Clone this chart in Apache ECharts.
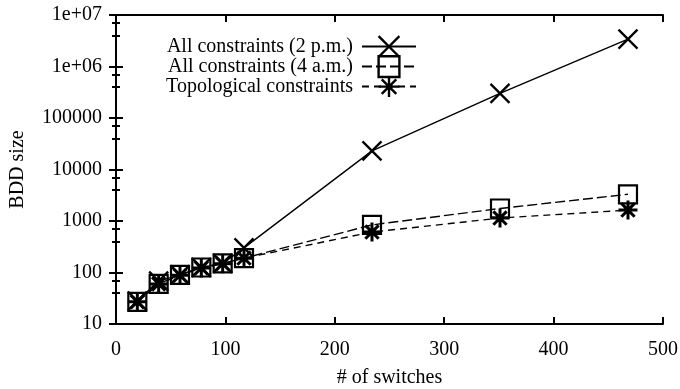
<!DOCTYPE html>
<html>
<head>
<meta charset="utf-8">
<script src="https://cdn.jsdelivr.net/npm/echarts@6/dist/echarts.min.js"></script>
<style>html,body{margin:0;padding:0;background:#fff;}#c{width:680px;height:389px;}</style>
</head>
<body>
<div id="c"></div>
<script>
const switches = [19.5, 39, 58.5, 78, 97.5, 117, 234, 351, 468];
const all2pm = [28, 68, 90, 125, 150, 300, 23000, 300000, 3400000];
const all4am = [27, 60, 90, 125, 150, 190, 840, 1750, 3300];
const topo = [27, 60, 88, 122, 148, 190, 610, 1140, 1630];
const seriesNames = ['All constraints (2 p.m.)', 'All constraints (4 a.m.)', 'Topological constraints'];
const yTickLabels = ['10', '100', '1000', '10000', '100000', '1e+06', '1e+07'];
const xTickLabels = ['0', '100', '200', '300', '400', '500'];

const FONT = 'Liberation Serif';
const pairs = arr => switches.map((x, i) => [x, arr[i]]);

const crossSym = 'path://M0,0L10,10M10,0L0,10';
const squareSym = 'path://M0,0L10,0L10,10L0,10Z';
const starSym = 'path://M5,0L5,10M0,5L10,5M1.5,1.5L8.5,8.5M8.5,1.5L1.5,8.5';

const baseAxisLine = { show: true, lineStyle: { color: '#000', width: 2 } };

const chart = echarts.init(document.getElementById('c'), null, { renderer: 'canvas' });
const legendCommon = {
  orient: 'horizontal', right: 263, align: 'right', itemWidth: 54, itemHeight: 26,
  selectedMode: false, padding: 0,
  itemStyle: { borderWidth: 2.4 },
  textStyle: { fontFamily: FONT, fontSize: 20, color: '#000', padding: [0, 4, 0, 0] }
};
chart.setOption({
  animation: false,
  backgroundColor: '#fff',
  grid: { left: 116, right: 17, top: 15, bottom: 65, outerBoundsMode: 'none', containLabel: false },
  legend: [
    Object.assign({ top: 35, data: [seriesNames[0]] }, legendCommon),
    Object.assign({ top: 55, data: [seriesNames[1]] }, legendCommon),
    Object.assign({ top: 75, data: [seriesNames[2]] }, legendCommon)
  ],
  xAxis: [{
    type: 'value', min: 0, max: 500, interval: 100, position: 'bottom',
    name: '# of switches', nameLocation: 'middle', nameGap: 44,
    nameTextStyle: { fontFamily: FONT, fontSize: 20, color: '#000' },
    axisLine: baseAxisLine,
    axisTick: { show: true, inside: true, length: 7, lineStyle: { color: '#000', width: 2 } },
    axisLabel: { fontFamily: FONT, fontSize: 20, color: '#000', margin: 16,
      formatter: v => xTickLabels[Math.round(v / 100)] },
    splitLine: { show: false }
  }, {
    type: 'value', min: 0, max: 500, interval: 100, position: 'top',
    axisLine: baseAxisLine,
    axisTick: { show: true, inside: true, length: 7, lineStyle: { color: '#000', width: 2 } },
    axisLabel: { show: false }, splitLine: { show: false }
  }],
  yAxis: [{
    type: 'log', logBase: 10, min: 10, max: 10000000, position: 'left',
    name: 'BDD size', nameLocation: 'middle', nameGap: 88, nameRotate: 90,
    nameTextStyle: { fontFamily: FONT, fontSize: 20, color: '#000' },
    axisLine: baseAxisLine,
    axisTick: { show: true, inside: true, length: 7, lineStyle: { color: '#000', width: 2 } },
    minorTick: { show: true, splitNumber: 3, length: 4, lineStyle: { color: '#000', width: 2 } },
    axisLabel: { fontFamily: FONT, fontSize: 20, color: '#000', margin: 14,
      formatter: v => yTickLabels[Math.round(Math.log10(v)) - 1] },
    splitLine: { show: false }
  }, {
    type: 'log', logBase: 10, min: 10, max: 10000000, position: 'right',
    axisLine: baseAxisLine,
    axisTick: { show: true, inside: true, length: 7, lineStyle: { color: '#000', width: 2 } },
    minorTick: { show: true, splitNumber: 3, length: 4, lineStyle: { color: '#000', width: 2 } },
    axisLabel: { show: false }, splitLine: { show: false }
  }],
  series: [{
    name: seriesNames[0], type: 'line', data: pairs(all2pm),
    symbol: crossSym, symbolSize: 19,
    itemStyle: { color: '#000', borderColor: '#000', borderWidth: 2.3 },
    lineStyle: { color: '#000', width: 1.4, type: 'solid' },
    emphasis: { disabled: true }, z: 3
  }, {
    name: seriesNames[1], type: 'line', data: pairs(all4am),
    symbol: squareSym, symbolSize: 18,
    itemStyle: { color: 'rgba(0,0,0,0)', borderColor: '#000', borderWidth: 2.2 },
    lineStyle: { color: '#000', width: 1.4, type: [10, 4] },
    emphasis: { disabled: true }, z: 2
  }, {
    name: seriesNames[2], type: 'line', data: pairs(topo),
    symbol: starSym, symbolSize: 19,
    itemStyle: { color: '#000', borderColor: '#000', borderWidth: 3 },
    lineStyle: { color: '#000', width: 1.4, type: [7, 5] },
    emphasis: { disabled: true }, z: 4
  }]
});
</script>
</body>
</html>
